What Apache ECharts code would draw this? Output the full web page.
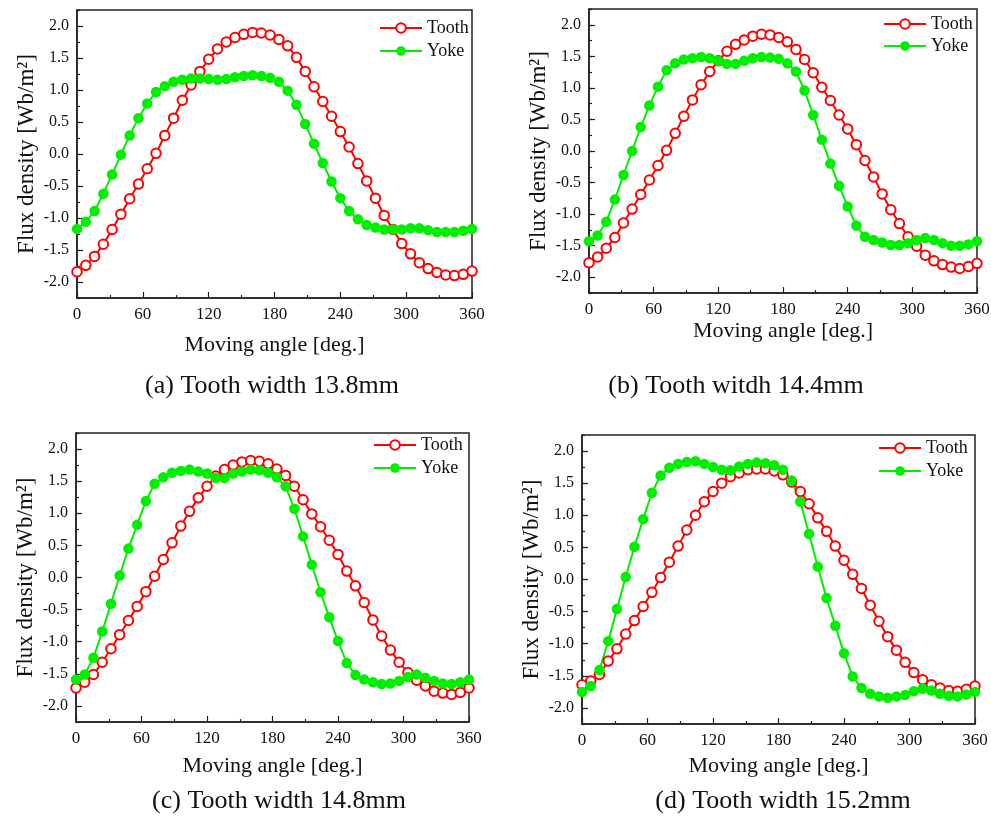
<!DOCTYPE html>
<html>
<head>
<meta charset="utf-8">
<script src="https://cdn.jsdelivr.net/npm/echarts@6/dist/echarts.min.js"></script>
<style>html,body{margin:0;padding:0;background:#fff;}#c{width:991px;height:818px;}</style>
</head>
<body>
<div id="c"></div>
<script>
const angles = [0,8,16,24,32,40,48,56,64,72,80,88,96,104,112,120,128,136,144,152,160,168,176,184,192,200,208,216,224,232,240,248,256,264,272,280,288,296,304,312,320,328,336,344,352,360];
const xTicks = [0,60,120,180,240,300,360];
const yTicks = [-2.0,-1.5,-1.0,-0.5,0.0,0.5,1.0,1.5,2.0];
const seriesNames = ['Tooth','Yoke'];
const captions = ['(a) Tooth width 13.8mm','(b) Tooth witdh 14.4mm','(c) Tooth width 14.8mm','(d) Tooth width 15.2mm'];
const xName = 'Moving angle [deg.]';
const yName = 'Flux density [Wb/m\u00B2]';

const toothA = [-1.84,-1.74,-1.60,-1.41,-1.18,-0.94,-0.70,-0.47,-0.23,0.01,0.29,0.56,0.84,1.08,1.29,1.48,1.64,1.75,1.82,1.87,1.90,1.89,1.86,1.79,1.69,1.51,1.29,1.05,0.82,0.59,0.35,0.11,-0.15,-0.42,-0.69,-0.96,-1.18,-1.40,-1.56,-1.70,-1.79,-1.85,-1.89,-1.90,-1.88,-1.83];
const yokeA  = [-1.17,-1.06,-0.89,-0.62,-0.32,-0.01,0.29,0.56,0.79,0.97,1.06,1.13,1.16,1.18,1.18,1.17,1.16,1.17,1.20,1.22,1.23,1.22,1.19,1.13,0.99,0.77,0.47,0.16,-0.14,-0.43,-0.69,-0.89,-1.02,-1.11,-1.15,-1.18,-1.18,-1.18,-1.16,-1.16,-1.19,-1.22,-1.22,-1.22,-1.20,-1.17];
const toothB = [-1.77,-1.68,-1.54,-1.37,-1.14,-0.92,-0.69,-0.46,-0.23,0.01,0.28,0.55,0.81,1.05,1.26,1.43,1.58,1.69,1.76,1.82,1.85,1.84,1.80,1.73,1.61,1.45,1.24,1.01,0.80,0.57,0.35,0.10,-0.15,-0.41,-0.68,-0.93,-1.15,-1.36,-1.51,-1.65,-1.74,-1.80,-1.84,-1.86,-1.83,-1.78];
const yokeB  = [-1.43,-1.34,-1.12,-0.77,-0.38,0.00,0.38,0.72,1.02,1.28,1.39,1.45,1.47,1.49,1.47,1.43,1.38,1.38,1.43,1.47,1.49,1.48,1.46,1.39,1.26,0.96,0.57,0.18,-0.20,-0.55,-0.88,-1.18,-1.36,-1.41,-1.45,-1.49,-1.49,-1.46,-1.41,-1.38,-1.41,-1.46,-1.50,-1.50,-1.48,-1.43];
const toothC = [-1.72,-1.63,-1.51,-1.32,-1.11,-0.89,-0.67,-0.45,-0.22,0.02,0.28,0.54,0.80,1.03,1.24,1.42,1.58,1.68,1.75,1.80,1.82,1.81,1.77,1.69,1.59,1.42,1.21,0.99,0.79,0.58,0.36,0.10,-0.13,-0.39,-0.66,-0.91,-1.13,-1.32,-1.48,-1.60,-1.69,-1.77,-1.80,-1.82,-1.79,-1.72];
const yokeC  = [-1.59,-1.51,-1.25,-0.84,-0.41,0.03,0.45,0.82,1.19,1.46,1.56,1.63,1.66,1.68,1.65,1.62,1.55,1.55,1.62,1.65,1.68,1.67,1.63,1.56,1.42,1.07,0.64,0.20,-0.23,-0.62,-0.99,-1.33,-1.52,-1.59,-1.63,-1.66,-1.65,-1.61,-1.55,-1.51,-1.56,-1.61,-1.65,-1.66,-1.63,-1.59];
const toothD = [-1.64,-1.58,-1.48,-1.27,-1.08,-0.85,-0.64,-0.42,-0.20,0.03,0.27,0.52,0.77,1.00,1.21,1.37,1.50,1.60,1.66,1.71,1.72,1.72,1.69,1.63,1.52,1.37,1.18,0.96,0.75,0.52,0.30,0.08,-0.14,-0.40,-0.65,-0.89,-1.10,-1.29,-1.45,-1.56,-1.64,-1.69,-1.73,-1.74,-1.71,-1.66];
const yokeD  = [-1.75,-1.66,-1.41,-0.96,-0.46,0.04,0.51,0.94,1.35,1.62,1.74,1.80,1.83,1.84,1.80,1.75,1.71,1.70,1.76,1.80,1.82,1.81,1.78,1.71,1.54,1.21,0.71,0.20,-0.29,-0.72,-1.15,-1.51,-1.69,-1.78,-1.82,-1.84,-1.82,-1.80,-1.74,-1.70,-1.73,-1.78,-1.81,-1.82,-1.79,-1.75];

const panels = [
  {tooth: toothA, yoke: yokeA},
  {tooth: toothB, yoke: yokeB},
  {tooth: toothC, yoke: yokeC},
  {tooth: toothD, yoke: yokeD}
];

// layout (pixels)
const grids = [
  {left: 77, top: 10, width: 395, height: 288},
  {left: 589, top: 9, width: 388, height: 284},
  {left: 76, top: 433, width: 393, height: 289},
  {left: 582, top: 435, width: 393, height: 289}
];
const xNameGaps = [36, 27, 33, 31];
const legendPos = [
  {left: 379, top: [19, 42]},
  {left: 883, top: [15, 37]},
  {left: 373, top: [436, 459]},
  {left: 878, top: [439, 462]}
];
const captionPos = [[272, 386], [736, 386], [279, 801], [783, 801]];

const FONT = 'Liberation Serif';
const AX = '#222';
const RED = '#ff0000';
const GREEN = '#00ee00';

const option = {
  animation: false,
  backgroundColor: '#fff',
  grid: [], xAxis: [], yAxis: [], series: [], legend: [], graphic: []
};

panels.forEach((p, i) => {
  const g = grids[i];
  option.grid.push(Object.assign({
    show: true, borderColor: AX, borderWidth: 1.5, backgroundColor: 'transparent',
    containLabel: false, outerBoundsMode: 'none'
  }, g));
  option.xAxis.push({
    type: 'value', gridIndex: i, min: 0, max: 360, interval: 60,
    name: xName, nameLocation: 'middle', nameGap: xNameGaps[i], nameMoveOverlap: false,
    nameTextStyle: {fontFamily: FONT, fontSize: 22, color: '#111'},
    axisLine: {show: true, onZero: false, lineStyle: {color: AX, width: 1.5}},
    axisTick: {show: true, inside: true, length: 6, lineStyle: {color: AX, width: 1.2}},
    minorTick: {show: true, splitNumber: 2, length: 3, lineStyle: {color: AX, width: 1.2}},
    axisLabel: {fontFamily: FONT, fontSize: 17, color: '#111', margin: 8,
      customValues: xTicks, formatter: v => String(v)},
    splitLine: {show: false}
  });
  option.yAxis.push({
    type: 'value', gridIndex: i, min: -2.25, max: 2.25, interval: 0.25,
    name: yName, nameLocation: 'middle', nameGap: 39, nameRotate: 90, nameMoveOverlap: false,
    nameTextStyle: {fontFamily: FONT, fontSize: 23, color: '#111'},
    axisLine: {show: true, onZero: false, lineStyle: {color: AX, width: 1.5}},
    axisTick: {show: true, inside: true, length: 3, lineStyle: {color: AX, width: 1.2}},
    axisLabel: {fontFamily: FONT, fontSize: 16, color: '#111', margin: 8,
      customValues: yTicks, formatter: v => v.toFixed(1)},
    splitLine: {show: false}
  });
  option.yAxis.push({
    type: 'value', gridIndex: i, min: -2.25, max: 2.25, position: 'left',
    axisLine: {show: false},
    axisTick: {show: true, inside: true, length: 6, customValues: yTicks, lineStyle: {color: AX, width: 1.2}},
    axisLabel: {show: false},
    splitLine: {show: false}
  });
  const common = {
    type: 'line', xAxisIndex: i, yAxisIndex: 2 * i,
    lineStyle: {width: 2}, emphasis: {disabled: true}
  };
  option.series.push(Object.assign({}, common, {
    name: seriesNames[0], symbol: 'emptyCircle', symbolSize: 9.5, color: RED,
    itemStyle: {color: RED, borderWidth: 1.3},
    data: angles.map((a, k) => [a, p.tooth[k]])
  }));
  option.series.push(Object.assign({}, common, {
    name: seriesNames[1], symbol: 'circle', symbolSize: 10.5, color: GREEN,
    itemStyle: {color: GREEN},
    data: angles.map((a, k) => [a, p.yoke[k]])
  }));
  seriesNames.forEach((nm, r) => {
    option.legend.push({
      data: [nm], left: legendPos[i].left, top: legendPos[i].top[r], orient: 'vertical',
      padding: 0, itemGap: 0, itemWidth: 42, itemHeight: 12, selectedMode: false,
      textStyle: {fontFamily: FONT, fontSize: 18, color: '#111'}
    });
  });
  option.graphic.push({
    type: 'text', x: captionPos[i][0], y: captionPos[i][1],
    style: {text: captions[i], font: '26px "Liberation Serif"', fill: '#111',
      textAlign: 'center', textVerticalAlign: 'middle'}
  });
});

const chart = echarts.init(document.getElementById('c'), null, {renderer: 'canvas'});
chart.setOption(option);
</script>
</body>
</html>
